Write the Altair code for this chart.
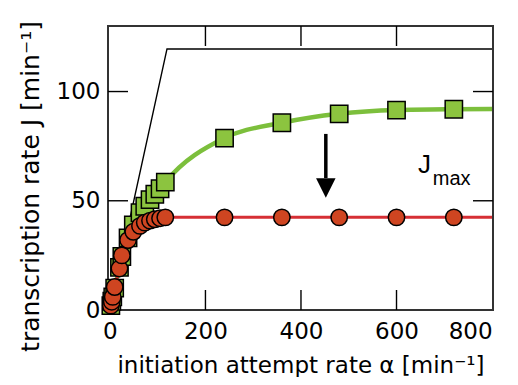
import altair as alt
import pandas as pd

# ---- data ----
alpha = [2, 4, 6, 10, 20, 25, 38, 49, 63, 73, 84, 94, 105, 116, 240, 360, 480, 600, 720]
green_J = [2, 4, 6, 10, 19.5, 24.5, 33, 39, 44.5, 47.5, 50.5, 53, 55.5, 58.5, 78.7, 85.7, 89.8, 91.5, 91.9]
red_J = [2, 3.8, 6, 10.5, 19, 25, 32, 35.8, 38.5, 40, 40.9, 41.5, 42, 42.4, 42.4, 42.4, 42.4, 42.4, 42.4]

green_curve_alpha = [0] + alpha + [800]
green_curve_J = [0] + green_J + [92]
red_curve_alpha = [0] + alpha + [800]
red_curve_J = [0] + red_J + [42.4]

jmax_alpha = [0, 119.5, 800]
jmax_J = [0, 119.5, 119.5]

x_ticks = [0, 200, 400, 600, 800]
y_ticks = [0, 50, 100]
inner_x_ticks = [200, 400, 600]
inner_y_ticks = [50, 100]

arrow_x = [452]
arrow_top = [80.6]
arrow_neck = [60.4]
arrow_head = [55.8]

label_J = {"x": [645], "y": [62.7], "t": ["J"]}
label_max = {"x": [676], "y": [57.2], "t": ["max"]}

FONT = "DejaVu Sans"
W, H = 385, 284
xs = alt.Scale(domain=[-4, 802], nice=False, zero=False)
ys = alt.Scale(domain=[0, 130], nice=False, zero=False)

x_axis = alt.Axis(values=x_ticks, tickSize=0, domain=False, grid=False,
                  labelFont=FONT, labelFontSize=23, labelColor="black", labelPadding=10,
                  title="initiation attempt rate α [min⁻¹]", titleFont=FONT, titleFontSize=23,
                  titleFontWeight="normal", titleColor="black", titleY=62,
                  titleBaseline="alphabetic")
y_axis = alt.Axis(values=y_ticks, tickSize=0, domain=False, grid=False,
                  labelFont=FONT, labelFontSize=23, labelColor="black", labelPadding=8,
                  title="transcription rate J  [min⁻¹]", titleFont=FONT, titleFontSize=25,
                  titleFontWeight="normal", titleColor="black", titleX=-70, titleY=160,
                  titleBaseline="alphabetic")


def X(f):
    return alt.X(f, scale=xs, axis=x_axis)


def Y(f):
    return alt.Y(f, scale=ys, axis=y_axis)


jmax_df = pd.DataFrame({"a": jmax_alpha, "J": jmax_J})
green_curve_df = pd.DataFrame({"a": green_curve_alpha, "J": green_curve_J})
red_curve_df = pd.DataFrame({"a": red_curve_alpha, "J": red_curve_J})
green_df = pd.DataFrame({"a": alpha, "J": green_J})
red_df = pd.DataFrame({"a": alpha, "J": red_J})

jmax_line = alt.Chart(jmax_df).mark_line(color="black", strokeWidth=1.4).encode(
    x=X("a:Q"), y=Y("J:Q"))
green_line = alt.Chart(green_curve_df).mark_line(
    color="#7cbf3c", strokeWidth=4.5, interpolate="monotone").encode(x=X("a:Q"), y=Y("J:Q"))
red_line = alt.Chart(red_curve_df).mark_line(
    color="#d62f35", strokeWidth=3, interpolate="monotone").encode(x=X("a:Q"), y=Y("J:Q"))
green_pts = alt.Chart(green_df).mark_square(
    size=300, fill="#8cc43f", stroke="black", strokeWidth=1.5, opacity=1).encode(
    x=X("a:Q"), y=Y("J:Q"))
red_pts = alt.Chart(red_df).mark_circle(
    size=270, fill="#cf4521", stroke="black", strokeWidth=1.5, opacity=1).encode(
    x=X("a:Q"), y=Y("J:Q"))

# inward ticks on all four sides
bx = pd.DataFrame({"a": inner_x_ticks})
by = pd.DataFrame({"J": inner_y_ticks})
tick_style = dict(color="black", strokeWidth=1.4)
t_bottom = alt.Chart(bx).mark_rule(**tick_style).encode(
    x=X("a:Q"), y=alt.value(H), y2=alt.value(H - 20))
t_top = alt.Chart(bx).mark_rule(**tick_style).encode(
    x=X("a:Q"), y=alt.value(0), y2=alt.value(20))
t_left = alt.Chart(by).mark_rule(**tick_style).encode(
    y=Y("J:Q"), x=alt.value(0), x2=alt.value(20))
t_right = alt.Chart(by).mark_rule(**tick_style).encode(
    y=Y("J:Q"), x=alt.value(W), x2=alt.value(W - 20))

# arrow
arrow_df = pd.DataFrame({"a": arrow_x, "J": arrow_top, "neck": arrow_neck, "head": arrow_head})
shaft = alt.Chart(arrow_df).mark_rule(color="black", strokeWidth=3.5).encode(
    x=X("a:Q"), y=Y("J:Q"), y2="neck:Q")
head = alt.Chart(arrow_df).mark_point(
    shape="M -1 -1 L 1 -1 L 0 1 Z", size=380, filled=True, color="black", opacity=1).encode(
    x=X("a:Q"), y=Y("head:Q"))

# J_max label
tJ = alt.Chart(pd.DataFrame(label_J)).mark_text(
    align="left", baseline="alphabetic", font="Liberation Sans", fontSize=26, color="black").encode(
    x=X("x:Q"), y=Y("y:Q"), text="t:N")
tmax = alt.Chart(pd.DataFrame(label_max)).mark_text(
    align="left", baseline="alphabetic", font="Liberation Sans", fontSize=20, color="black").encode(
    x=X("x:Q"), y=Y("y:Q"), text="t:N")

chart = alt.layer(
    jmax_line, green_line, red_line, green_pts, red_pts,
    t_bottom, t_top, t_left, t_right, shaft, head, tJ, tmax,
).properties(
    width=W, height=H,
    autosize=alt.AutoSizeParams(type="none"),
    padding={"left": 100, "top": 18, "right": 17, "bottom": 67},
).configure_view(stroke="#333", strokeWidth=2)

chart.save("out.html", embed_options={"renderer": "svg", "actions": False})
